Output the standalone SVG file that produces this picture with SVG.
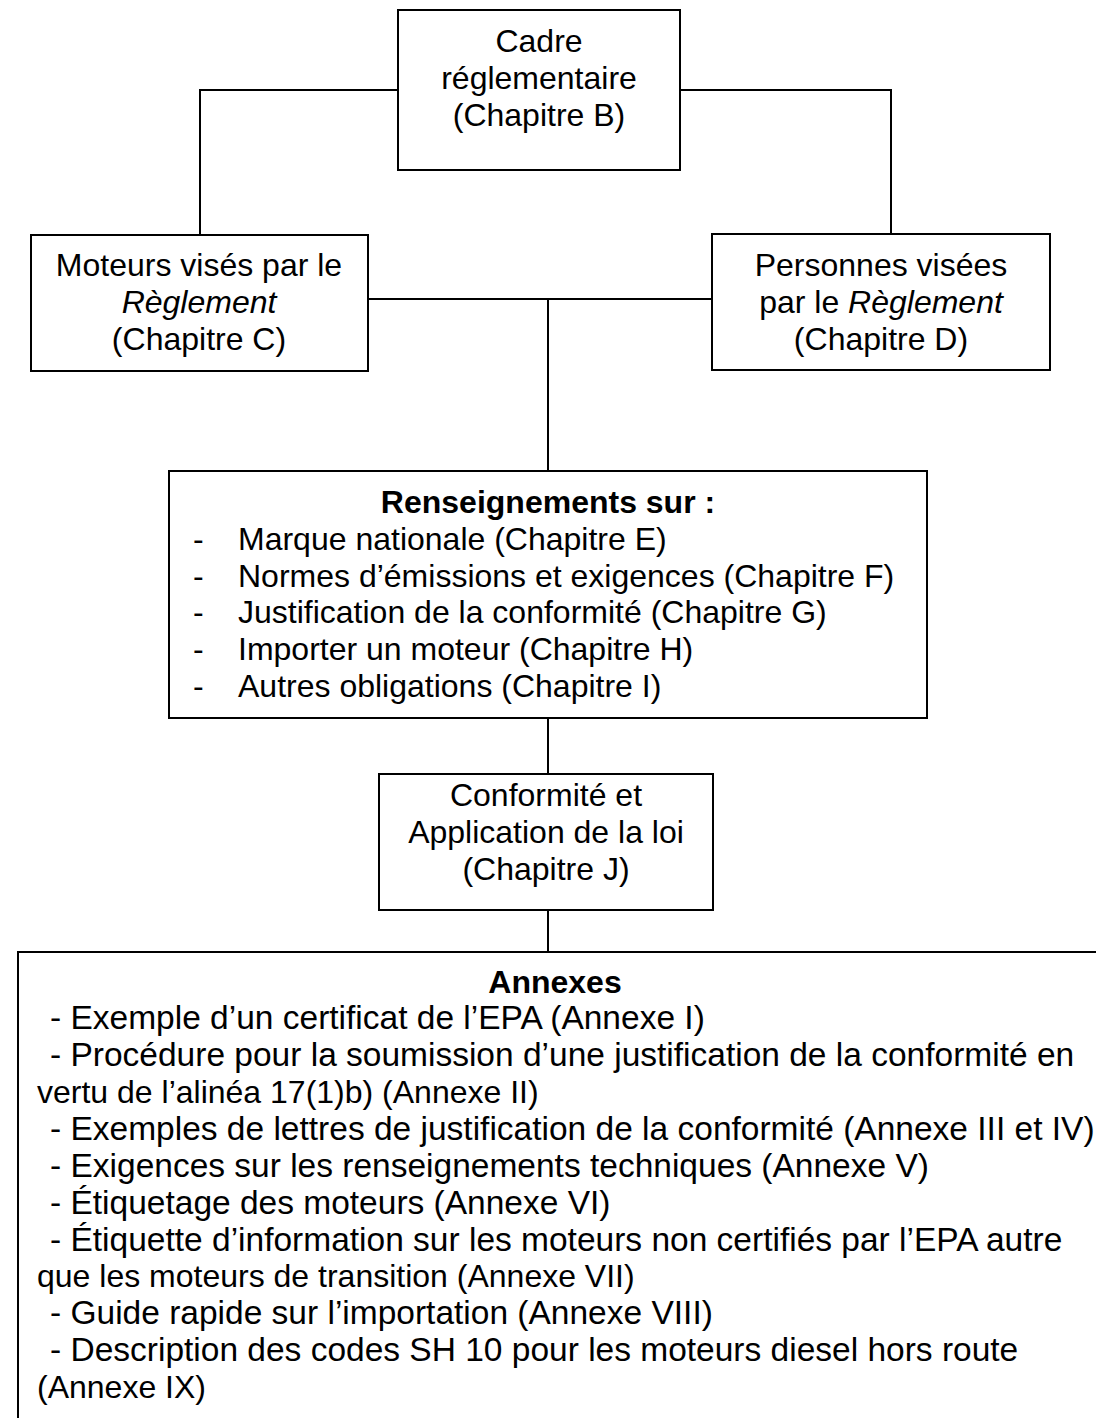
<svg xmlns="http://www.w3.org/2000/svg" width="1096" height="1418" viewBox="0 0 1096 1418">
<style>
.box{fill:#fff;stroke:#000;stroke-width:2}
.ln{fill:none;stroke:#000;stroke-width:2}
text{font-family:"Liberation Sans",Arial,sans-serif;font-size:32px;fill:#000}
.c{text-anchor:middle}
.b{font-weight:bold}
.i{font-style:italic}
.a{font-size:33.5px}
</style>
<rect width="1096" height="1418" fill="#fff"/>
<g id="connectors">
<polyline class="ln" points="398,90 200,90 200,235"/>
<polyline class="ln" points="680,90 891,90 891,234"/>
<line class="ln" x1="368" y1="299" x2="712" y2="299"/>
<line class="ln" x1="548" y1="299" x2="548" y2="471"/>
<line class="ln" x1="548" y1="718" x2="548" y2="774"/>
<line class="ln" x1="548" y1="910" x2="548" y2="952"/>
</g>
<g id="cadre">
<rect class="box" x="398" y="10" width="282" height="160"/>
<text class="c" x="539" y="52">Cadre</text>
<text class="c" x="539" y="89">réglementaire</text>
<text class="c" x="539" y="126">(Chapitre B)</text>
</g>
<g id="moteurs">
<rect class="box" x="31" y="235" width="337" height="136"/>
<text class="c" x="199" y="276">Moteurs visés par le</text>
<text class="c i" x="199" y="313">Règlement</text>
<text class="c" x="199" y="350">(Chapitre C)</text>
</g>
<g id="personnes">
<rect class="box" x="712" y="234" width="338" height="136"/>
<text class="c" x="881" y="276">Personnes visées</text>
<text class="c" x="881" y="313">par le <tspan class="i">Règlement</tspan></text>
<text class="c" x="881" y="350">(Chapitre D)</text>
</g>
<g id="renseignements">
<rect class="box" x="169" y="471" width="758" height="247"/>
<text class="c b" x="548" y="513">Renseignements sur :</text>
<text x="193" y="550">-</text><text x="238" y="550">Marque nationale (Chapitre E)</text>
<text x="193" y="587">-</text><text x="238" y="587">Normes d’émissions et exigences (Chapitre F)</text>
<text x="193" y="623">-</text><text x="238" y="623">Justification de la conformité (Chapitre G)</text>
<text x="193" y="660">-</text><text x="238" y="660">Importer un moteur (Chapitre H)</text>
<text x="193" y="697">-</text><text x="238" y="697">Autres obligations (Chapitre I)</text>
</g>
<g id="conformite">
<rect class="box" x="379" y="774" width="334" height="136"/>
<text class="c" x="546" y="806">Conformité et</text>
<text class="c" x="546" y="843">Application de la loi</text>
<text class="c" x="546" y="880">(Chapitre J)</text>
</g>
<g id="annexes">
<rect class="box" x="18" y="952" width="1090" height="480"/>
<text class="c b" x="555" y="993">Annexes</text>
<text class="a" x="50" y="1029">- Exemple d’un certificat de l’EPA (Annexe I)</text>
<text class="a" x="50" y="1066">- Procédure pour la soumission d’une justification de la conformité en</text>
<text x="37" y="1103">vertu de l’alinéa 17(1)b) (Annexe II)</text>
<text class="a" x="50" y="1140">- Exemples de lettres de justification de la conformité (Annexe III et IV)</text>
<text class="a" x="50" y="1177">- Exigences sur les renseignements techniques (Annexe V)</text>
<text class="a" x="50" y="1214">- Étiquetage des moteurs (Annexe VI)</text>
<text class="a" x="50" y="1251">- Étiquette d’information sur les moteurs non certifiés par l’EPA autre</text>
<text x="37" y="1287">que les moteurs de transition (Annexe VII)</text>
<text class="a" x="50" y="1324">- Guide rapide sur l’importation (Annexe VIII)</text>
<text class="a" x="50" y="1361">- Description des codes SH 10 pour les moteurs diesel hors route</text>
<text x="37" y="1398">(Annexe IX)</text>
</g>
</svg>
